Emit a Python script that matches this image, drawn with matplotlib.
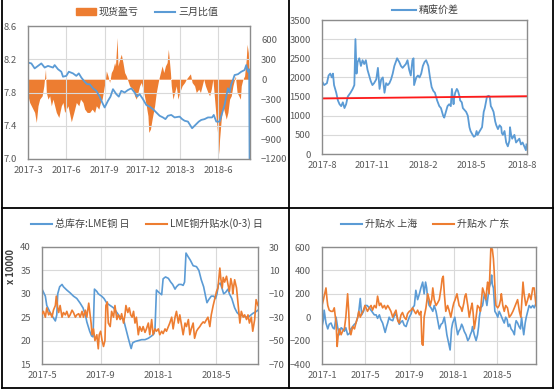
import numpy as np
import pandas as pd
import matplotlib
matplotlib.use("Agg")
import matplotlib.pyplot as plt
import matplotlib.dates as mdates
from matplotlib.ticker import FuncFormatter
from matplotlib.lines import Line2D
from matplotlib.patches import Patch

plt.rcParams['font.family'] = ['Noto Sans CJK SC', 'DejaVu Sans']

BLUE = "#5B9BD5"
ORANGE = "#ED7D31"
GRID = "#D9D9D9"
TXT = "#595959"

############################################
# DATA  (days counted from each panel's start date)
############################################
# panel 1: 现货盈亏 (bars, right axis) / 三月比值 (line, left axis)
p1_start = "2017-03-01"
ratio_day = [0, 8, 16, 24, 32, 40, 48, 60, 64, 72, 80, 84, 92, 98, 108, 116, 122, 128, 136, 142,
             148, 156, 164, 172, 180, 184, 192, 198, 204, 212, 218, 224, 232, 240, 248, 256, 262, 268,
             276, 284, 292, 300, 308, 316, 324, 330, 336, 344, 352, 364, 370, 376, 384, 394, 404, 410,
             416, 424, 432, 442, 446, 452, 460, 466, 472, 480, 484, 488, 492, 496, 504, 512, 520, 524,
             528, 531, 532]
ratio_val = [8.16, 8.15, 8.09, 8.12, 8.15, 8.10, 8.12, 8.10, 8.13, 8.08, 8.05, 7.99, 8.00, 8.05, 8.03,
             8.00, 8.03, 7.98, 7.93, 7.90, 7.90, 7.85, 7.82, 7.75, 7.66, 7.62, 7.70, 7.75, 7.84, 7.78,
             7.75, 7.82, 7.80, 7.83, 7.85, 7.80, 7.75, 7.78, 7.72, 7.65, 7.63, 7.60, 7.56, 7.52, 7.50,
             7.48, 7.52, 7.53, 7.50, 7.51, 7.48, 7.46, 7.45, 7.37, 7.42, 7.45, 7.47, 7.48, 7.50, 7.50,
             7.53, 7.45, 7.45, 7.55, 7.65, 7.85, 7.80, 7.90, 7.95, 8.01, 8.02, 8.05, 8.07, 8.13, 8.05,
             8.08, 7.00]
pnl_day = [0, 4, 12, 16, 20, 24, 28, 34, 38, 42, 44, 48, 52, 56, 60, 68, 74, 80, 84, 88, 92, 96, 104,
           110, 116, 122, 126, 132, 136, 142, 148, 154, 160, 164, 170, 174, 178, 182, 186, 188, 192,
           196, 200, 204, 208, 210, 214, 216, 220, 224, 228, 232, 236, 244, 252, 256, 260, 264, 268,
           272, 278, 284, 288, 290, 294, 298, 304, 308, 314, 318, 322, 326, 330, 334, 337, 342, 344,
           348, 352, 356, 360, 364, 370, 376, 380, 386, 390, 394, 400, 404, 410, 414, 418, 422, 426,
           432, 436, 440, 444, 448, 452, 455, 458, 460, 464, 468, 472, 476, 480, 484, 488, 492, 496,
           498, 502, 506, 510, 512, 516, 520, 524, 526, 529, 531]
pnl_val = [-250, -350, -450, -500, -650, -400, -300, -250, -100, 150, -200, -300, -250, -400, -300,
           -500, -575, -400, -350, -500, -450, -400, -640, -500, -350, -400, -300, -350, -450, -500,
           -500, -450, -500, -400, -450, -350, -300, -150, 0, 125, 50, -50, 100, 150, 250, 200, 625,
           200, 300, 375, 250, 100, 50, -100, -150, -250, -300, -200, -100, -50, -200, -400, -550,
           -800, -750, -600, -400, -200, 0, 100, 200, 100, 200, 250, 450, 100, -100, -300, -200, -100,
           -300, -200, -100, -50, 0, 50, 80, -50, -100, -200, -150, -200, -100, 0, -100, -200, -250,
           -150, 0, -300, -600, -800, -1125, -900, -600, -400, -500, -600, -500, -300, -250, -100, 0,
           50, -200, -250, -300, -100, 0, 50, 300, 525, 400, 0]

# panel 2: 精废价差
p2_start = "2017-08-01"
spread_day = [0, 4, 9, 12, 15, 18, 20, 22, 26, 29, 32, 35, 38, 41, 44, 47, 52, 56, 59, 61, 63, 65, 68,
              71, 74, 77, 80, 83, 86, 89, 92, 95, 99, 102, 105, 108, 111, 114, 117, 120, 123, 126, 129,
              132, 137, 141, 144, 147, 150, 153, 156, 159, 162, 165, 167, 168, 172, 175, 178, 181, 184,
              187, 190, 194, 197, 200, 203, 206, 210, 214, 217, 219, 221, 223, 226, 229, 232, 235, 237,
              240, 241, 243, 246, 248, 251, 252, 255, 257, 260, 263, 266, 269, 271, 274, 277, 280, 282,
              284, 287, 290, 292, 295, 297, 299, 301, 304, 306, 308, 310, 313, 316, 318, 321, 324, 327,
              328, 330, 333, 336, 339, 342, 343, 345, 347, 351, 354, 357, 360, 363, 366, 369, 372, 373]
spread_val = [1900, 1800, 1850, 2050, 2100, 2000, 2100, 1800, 1600, 1400, 1300, 1250, 1350, 1200, 1300,
              1500, 1600, 1700, 1800, 3000, 2100, 2400, 2500, 2300, 2450, 2350, 2450, 2200, 2050, 1900,
              1800, 1850, 1950, 2250, 1700, 1950, 2000, 1600, 1850, 1800, 1850, 1950, 2100, 2300, 2500,
              2400, 2300, 2250, 2300, 2350, 2450, 2200, 2050, 2450, 2500, 1800, 2000, 2050, 2000, 2100,
              2300, 2400, 2450, 2300, 2000, 1750, 1650, 1600, 1400, 1250, 1200, 1100, 1000, 950, 1100,
              1250, 1300, 1250, 1700, 1300, 1450, 1600, 1700, 1650, 1500, 1400, 1350, 1200, 1150, 1100,
              1000, 700, 600, 520, 450, 480, 600, 500, 580, 650, 700, 1100, 1200, 1350, 1500, 1520, 1500,
              1250, 1200, 1100, 850, 750, 650, 750, 700, 550, 500, 600, 300, 200, 350, 700, 500, 400, 500,
              300, 350, 400, 250, 300, 200, 100, 250]
red_line = [1450, 1510]

# panel 3: 总库存:LME铜 (left) / LME铜升贴水(0-3) (right)
p3_start = "2017-05-01"
stock_day = [0, 7, 10, 17, 23, 28, 31, 33, 37, 42, 45, 52, 59, 66, 73, 80, 86, 91, 94, 100, 104, 107,
             110, 115, 118, 125, 130, 136, 143, 150, 157, 164, 171, 176, 181, 185, 187, 190, 195, 202,
             209, 216, 223, 230, 235, 237, 240, 246, 251, 254, 259, 265, 270, 274, 279, 282, 287, 292,
             296, 299, 302, 306, 311, 317, 324, 329, 334, 339, 343, 346, 350, 355, 360, 364, 367, 370,
             374, 378, 381, 385, 390, 393, 398, 404, 409, 414, 421, 428, 435, 442, 449, 453]
stock_val = [31.0, 29.5, 27.5, 26.0, 25.0, 24.2, 25.5, 30.0, 31.5, 32.0, 31.5, 30.8, 30.2, 29.5, 29.0,
             28.0, 27.0, 25.5, 24.0, 22.0, 21.0, 20.8, 31.0, 30.5, 30.0, 29.5, 29.0, 28.0, 27.5, 27.0,
             26.0, 25.0, 24.5, 22.5, 20.5, 19.0, 18.3, 19.5, 19.8, 20.0, 20.2, 20.2, 20.5, 21.0, 21.5,
             22.5, 30.8, 30.2, 29.8, 33.2, 33.6, 33.3, 32.5, 32.0, 31.0, 31.5, 32.0, 32.0, 31.8, 32.5,
             38.7, 38.0, 37.2, 36.0, 35.8, 35.0, 33.0, 31.5, 29.5, 28.1, 28.8, 29.5, 29.5, 29.0, 30.0,
             32.0, 32.3, 31.0, 30.0, 30.3, 31.0, 30.0, 29.0, 27.0, 26.0, 25.5, 25.3, 25.0, 25.2, 25.8,
             26.2, 26.5]
lme_day = [0, 3, 7, 10, 14, 17, 21, 24, 28, 30, 33, 35, 38, 42, 45, 49, 52, 56, 59, 63, 66, 70, 73, 77,
           80, 84, 87, 91, 94, 98, 101, 103, 105, 108, 111, 115, 118, 120, 123, 126, 129, 132, 134, 137,
           139, 143, 146, 150, 153, 157, 160, 164, 167, 171, 174, 176, 180, 183, 186, 189, 192, 195,
           198, 202, 205, 209, 212, 216, 219, 223, 226, 230, 233, 237, 240, 244, 247, 251, 254, 258,
           261, 265, 268, 272, 275, 279, 282, 286, 289, 293, 296, 300, 303, 307, 310, 313, 317, 320,
           324, 327, 331, 334, 338, 341, 345, 348, 352, 355, 359, 362, 366, 369, 373, 375, 378, 380,
           383, 387, 390, 393, 396, 399, 400, 404, 408, 411, 415, 418, 422, 425, 429, 432, 435, 439,
           442, 446, 449, 453]
lme_val = [-27, -25, -30, -22, -28, -26, -30, -24, -20, -12, -22, -26, -20, -30, -26, -28, -25, -30,
           -28, -24, -26, -30, -28, -27, -30, -25, -30, -24, -30, -18, -28, -35, -45, -40, -50, -45,
           -57, -45, -42, -50, -55, -50, -20, -17, -35, -38, -25, -30, -20, -32, -28, -32, -27, -35,
           -28, -20, -26, -22, -28, -30, -25, -35, -30, -45, -38, -42, -38, -43, -40, -35, -45, -32,
           -45, -40, -42, -40, -45, -42, -44, -40, -42, -38, -35, -30, -40, -30, -25, -35, -28, -38,
           -45, -35, -38, -32, -45, -40, -35, -48, -42, -40, -38, -36, -34, -35, -32, -30, -38, -28,
           -20, -15, -8, -5, 12, 3, -5, 4, 0, 5, -2, -8, 3, -3, -10, 2, -5, -18, -35, -25, -30, -28,
           -32, -28, -35, -30, -42, -32, -15, -20]

# panel 4: 升贴水 上海 / 广东
p4_start = "2017-01-01"
sh_day = [0, 4, 6, 11, 16, 20, 25, 30, 34, 39, 43, 48, 53, 57, 62, 66, 71, 76, 80, 85, 90, 94, 99, 102,
          106, 110, 115, 120, 125, 131, 138, 145, 150, 154, 159, 163, 168, 175, 179, 182, 186, 189, 196,
          200, 205, 210, 214, 219, 223, 228, 233, 237, 242, 247, 251, 256, 260, 265, 270, 274, 279, 283,
          287, 290, 293, 297, 302, 307, 311, 316, 319, 322, 325, 330, 334, 339, 343, 346, 351, 355, 359,
          362, 368, 372, 376, 379, 383, 387, 390, 394, 399, 404, 408, 411, 415, 417, 422, 427, 431, 434,
          436, 440, 445, 450, 454, 457, 461, 463, 468, 470, 472, 475, 479, 483, 487, 491, 494, 498, 502,
          505, 509, 513, 516, 520, 524, 529, 533, 536, 538, 542, 546, 550, 553, 556, 559, 561, 563, 566,
          570, 574, 579, 584, 588, 593]
sh_val = [-80, -20, 60, -50, -100, -60, -50, -90, -100, 0, -80, -150, -90, -100, -120, -90, -150, -140,
          -100, -80, -60, -50, 0, 50, 160, 20, 50, 100, 100, 80, 50, 20, 20, -10, 20, -20, -50, -130,
          -80, -50, 0, -20, -30, 10, 30, -20, -60, -40, -30, -70, -80, -40, 0, 30, 80, 100, 230, 150,
          200, 250, 300, 200, 300, 250, 150, 100, 80, 50, 100, 50, 0, -50, -100, -60, -50, 0, -80, -150,
          -220, -280, -100, -50, 0, -80, -150, -120, -100, -60, -80, -120, -150, -200, -180, -150, -120,
          -80, -150, -200, -150, -80, 0, 80, 100, 200, 150, 100, 200, 250, 300, 360, 280, 250, 50, 30,
          0, 50, 30, 0, -30, -50, 0, -20, -80, -60, -100, -120, -150, -60, -30, -50, -80, -100, 0, -80,
          -150, -100, -50, 0, 50, 100, 80, 100, 80, 120]
gd_day = [0, 4, 6, 11, 14, 16, 20, 25, 30, 34, 37, 39, 42, 45, 48, 53, 57, 62, 66, 71, 74, 76, 80, 85,
          90, 94, 99, 102, 106, 110, 115, 119, 122, 126, 131, 136, 140, 145, 150, 154, 159, 163, 168,
          173, 177, 182, 186, 191, 196, 200, 205, 210, 214, 219, 223, 228, 233, 237, 242, 247, 251, 256,
          260, 265, 270, 274, 277, 280, 283, 288, 293, 297, 300, 304, 307, 311, 316, 320, 325, 330, 333,
          336, 339, 343, 348, 352, 357, 362, 365, 369, 374, 378, 380, 385, 388, 393, 396, 399, 404, 408,
          413, 416, 419, 422, 427, 431, 436, 439, 442, 445, 450, 454, 457, 459, 463, 466, 468, 472, 475,
          477, 480, 482, 487, 491, 495, 497, 501, 505, 509, 514, 519, 524, 529, 533, 538, 542, 547, 551,
          554, 557, 560, 565, 570, 574, 579, 584, 588, 593]
gd_val = [100, 150, 180, 250, 150, 100, 60, 50, 50, 80, 0, -50, -250, -150, -100, -150, -120, -100, 0,
          200, 50, -100, -150, -80, -100, -50, 0, 50, 0, 30, 60, 100, 80, 50, 80, 100, 60, 100, 80, 180,
          100, 120, 80, 100, 70, 100, 80, 50, 0, 30, 60, -30, -50, 20, 40, 0, -20, 30, 50, 60, 80, 50,
          30, 60, 20, 50, -230, -240, 0, 80, 200, 150, 100, 150, 250, 150, 100, 120, 150, 250, 330, 350,
          200, 50, 100, 60, 0, 80, 120, 150, 200, 130, 100, 80, 50, 120, 180, 200, 100, 0, 80, 120, 30,
          -100, 0, 100, 80, 50, 150, 250, 200, 150, 250, 300, 200, 450, 600, 580, 500, 400, 200, 100,
          80, 100, 150, 200, 100, 50, 100, 80, 0, 20, 50, 80, 120, 150, 50, 0, 150, 300, 200, 100, 150,
          200, 150, 250, 250, 100]


def to_dates(start, days):
    return pd.Timestamp(start) + pd.to_timedelta(np.array(days), unit="D")


def ym(x, pos=None):
    d = mdates.num2date(x)
    return f"{d.year}-{d.month}"


def style(ax, months, grid_x=True):
    ax.xaxis.set_major_locator(mdates.MonthLocator(bymonth=months))
    ax.xaxis.set_major_formatter(FuncFormatter(ym))
    ax.tick_params(length=0, labelsize=6.8, labelcolor=TXT)
    ax.tick_params(axis="x", pad=5)
    ax.tick_params(axis="y", pad=8)
    ax.grid(axis="y", color=GRID, lw=0.8)
    if grid_x:
        ax.grid(axis="x", color=GRID, lw=0.8)
    ax.set_axisbelow(True)
    for s in ax.spines.values():
        s.set_color("#8C8C8C")
        s.set_linewidth(1.0)


W, H = 556, 391
fig = plt.figure(figsize=(W / 100, H / 100), dpi=100)


def box(l, t, r, b):
    return [l / W, 1 - b / H, (r - l) / W, (b - t) / H]


############################################
# PANEL 1
############################################
ax1 = fig.add_axes(box(28, 26, 250, 159))
ax1r = ax1.twinx()
d_pnl = to_dates(p1_start, pnl_day)
d_ratio = to_dates(p1_start, ratio_day)
ax1r.fill_between(d_pnl, 0, pnl_val, color=ORANGE, lw=0)
ax1.plot(d_ratio, ratio_val, color=BLUE, lw=1.3)
ax1.set_zorder(ax1r.get_zorder() + 1)
ax1.patch.set_visible(False)
ax1.set_ylim(7.0, 8.6)
ax1.set_yticks([7.0, 7.4, 7.8, 8.2, 8.6])
ax1.yaxis.set_major_formatter(FuncFormatter(lambda v, p: f"{v:.1f}"))
ax1r.set_ylim(-1200, 800)
ax1r.set_yticks(range(-1200, 601, 300))
ax1.set_xlim(pd.Timestamp(p1_start), pd.Timestamp(p1_start) + pd.Timedelta(days=533))
style(ax1, [3, 6, 9, 12])
ax1r.tick_params(length=0, labelsize=6.8, labelcolor=TXT, pad=8)
for s in ax1r.spines.values():
    s.set_visible(False)
fig.legend(handles=[Patch(color=ORANGE), Line2D([], [], color=BLUE, lw=1.5)],
           labels=["现货盈亏", "三月比值"], loc="center", bbox_to_anchor=(147 / W, 1 - 12 / H),
           ncol=2, frameon=False, fontsize=7.2, labelcolor="#404040", handlelength=2.0,
           handleheight=0.6, columnspacing=1.6, handletextpad=0.3)

############################################
# PANEL 2
############################################
ax2 = fig.add_axes(box(322, 20, 527, 154))
d_sp = to_dates(p2_start, spread_day)
ax2.plot(d_sp, spread_val, color=BLUE, lw=1.3)
x2 = [pd.Timestamp(p2_start), pd.Timestamp(p2_start) + pd.Timedelta(days=374)]
ax2.plot(x2, red_line, color="#FF1A1A", lw=1.3)
ax2.set_xlim(x2[0], x2[1])
ax2.set_ylim(0, 3500)
ax2.set_yticks(range(0, 3501, 500))
style(ax2, [2, 5, 8, 11], grid_x=False)
fig.legend(handles=[Line2D([], [], color=BLUE, lw=1.5)], labels=["精废价差"], loc="center",
           bbox_to_anchor=(425 / W, 1 - 10 / H), frameon=False, fontsize=7.2,
           labelcolor="#404040", handlelength=2.4, handletextpad=0.3)

############################################
# PANEL 3
############################################
ax3 = fig.add_axes(box(42, 247, 258, 364))
ax3r = ax3.twinx()
ax3.plot(to_dates(p3_start, stock_day), stock_val, color=BLUE, lw=1.2)
ax3r.plot(to_dates(p3_start, lme_day), lme_val, color=ORANGE, lw=1.2)
ax3.set_ylim(15, 40)
ax3.set_yticks(range(15, 41, 5))
ax3r.set_ylim(-70, 30)
ax3r.set_yticks(range(-70, 31, 20))
ax3.set_xlim(pd.Timestamp(p3_start), pd.Timestamp(p3_start) + pd.Timedelta(days=453))
style(ax3, [1, 5, 9])
ax3r.tick_params(length=0, labelsize=6.8, labelcolor=TXT, pad=8)
for s in ax3r.spines.values():
    s.set_visible(False)
fig.text(11 / W, 1 - 266 / H, "x 10000", rotation=90, ha="center", va="center",
         fontsize=6.8, color="#404040", fontweight="bold")
fig.legend(handles=[Line2D([], [], color=BLUE, lw=1.5), Line2D([], [], color=ORANGE, lw=1.5)],
           labels=["总库存:LME铜 日", "LME铜升贴水(0-3) 日"], loc="center",
           bbox_to_anchor=(147 / W, 1 - 224 / H), ncol=2, frameon=False, fontsize=7.2,
           labelcolor="#404040", handlelength=2.1, columnspacing=1.6, handletextpad=0.3)

############################################
# PANEL 4
############################################
ax4 = fig.add_axes(box(322, 247, 536, 364))
ax4.plot(to_dates(p4_start, sh_day), sh_val, color=BLUE, lw=1.2)
ax4.plot(to_dates(p4_start, gd_day), gd_val, color=ORANGE, lw=1.2)
ax4.set_ylim(-400, 600)
ax4.set_yticks(range(-400, 601, 200))
ax4.set_xlim(pd.Timestamp(p4_start), pd.Timestamp(p4_start) + pd.Timedelta(days=593))
style(ax4, [1, 5, 9])
fig.legend(handles=[Line2D([], [], color=BLUE, lw=1.5), Line2D([], [], color=ORANGE, lw=1.5)],
           labels=["升贴水 上海", "升贴水 广东"], loc="center",
           bbox_to_anchor=(425 / W, 1 - 224 / H), ncol=2, frameon=False, fontsize=7.2,
           labelcolor="#404040", handlelength=2.1, columnspacing=1.6, handletextpad=0.3)

############################################
# PANEL SEPARATORS / BORDER
############################################
def seg(x0, y0, x1, y1):
    fig.add_artist(Line2D([x0 / W, x1 / W], [1 - y0 / H, 1 - y1 / H], color="black", lw=1.3,
                          transform=fig.transFigure))

seg(289, 0, 289, 388)
seg(2, 208, 553, 208)
seg(2, 0, 2, 388)
seg(553, 0, 553, 388)
seg(2, 388, 553, 388)

fig.savefig("out.png", dpi=100)
